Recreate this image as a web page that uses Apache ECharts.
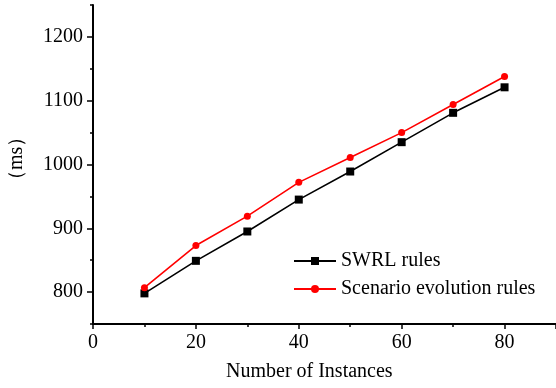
<!DOCTYPE html>
<html><head><meta charset="utf-8">
<script src="https://cdn.jsdelivr.net/npm/echarts@6/dist/echarts.min.js"></script>
<style>html,body{margin:0;padding:0;background:#fff}#c{width:556px;height:388px}</style>
</head><body><div id="c"></div>
<script>
var instances = [10, 20, 30, 40, 50, 60, 70, 80];
var swrlRules = [798, 849, 895, 945, 989, 1035, 1081, 1121];
var scenarioRules = [807, 873, 919, 972, 1011, 1050, 1094, 1138];
var seriesNames = ['SWRL rules', 'Scenario evolution rules'];
var yMajorTicks = [800, 900, 1000, 1100, 1200];
var yMinorTicks = [750, 850, 950, 1050, 1150, 1250];
var xTitle = 'Number of Instances';
var yTitle = '（ms）';

var font = 'Liberation Serif';
var chart = echarts.init(document.getElementById('c'), null, {renderer: 'canvas'});
function pairs(v) { return instances.map(function (x, i) { return [x, v[i]]; }); }
chart.setOption({
  animation: false,
  backgroundColor: '#fff',
  grid: {left: 93, right: 0, top: 5, bottom: 64, containLabel: false},
  legend: {
    orient: 'vertical', left: 288, top: 246, itemGap: 8, itemWidth: 42, itemHeight: 10,
    textStyle: {fontFamily: font, fontSize: 20, color: '#000'},
    data: seriesNames
  },
  xAxis: {
    type: 'value', min: 0, max: 90, interval: 20,
    axisLine: {show: true, lineStyle: {color: '#000', width: 2}},
    axisTick: {show: true, inside: false, length: 5, lineStyle: {color: '#000', width: 1.5}},
    minorTick: {show: true, splitNumber: 2, length: 3, lineStyle: {color: '#000', width: 1.5}},
    axisLabel: {fontFamily: font, fontSize: 20, color: '#000', margin: 9, showMaxLabel: false},
    splitLine: {show: false}
  },
  yAxis: [{
    type: 'value', min: 750, max: 1250, interval: 50,
    axisLine: {show: true, lineStyle: {color: '#000', width: 2}},
    axisTick: {show: true, inside: false, length: 6, customValues: yMajorTicks, lineStyle: {color: '#000', width: 1.5}},
    axisLabel: {fontFamily: font, fontSize: 20, color: '#000', margin: 10, customValues: yMajorTicks,
      formatter: function (v) { return String(v); }},
    splitLine: {show: false}
  }, {
    type: 'value', min: 750, max: 1250, interval: 50, position: 'left', offset: 0,
    axisLine: {show: false},
    axisTick: {show: true, inside: false, length: 3, customValues: yMinorTicks, lineStyle: {color: '#000', width: 1.5}},
    axisLabel: {show: false},
    splitLine: {show: false}
  }],
  graphic: [
    {type: 'text', left: 226, top: 362, style: {text: xTitle, font: '20px "' + font + '"', fill: '#000'}},
    {type: 'text', x: 7, y: 190, rotation: Math.PI / 2,
      style: {text: yTitle, font: '20px "' + font + '"', fill: '#000'}}
  ],
  series: [
    {name: seriesNames[0], type: 'line', data: pairs(swrlRules), symbol: 'rect', symbolSize: 8,
      lineStyle: {color: '#000', width: 1.6}, itemStyle: {color: '#000'}},
    {name: seriesNames[1], type: 'line', data: pairs(scenarioRules), symbol: 'circle', symbolSize: 7,
      lineStyle: {color: '#ff0000', width: 1.6}, itemStyle: {color: '#ff0000'}}
  ]
});
</script></body></html>
